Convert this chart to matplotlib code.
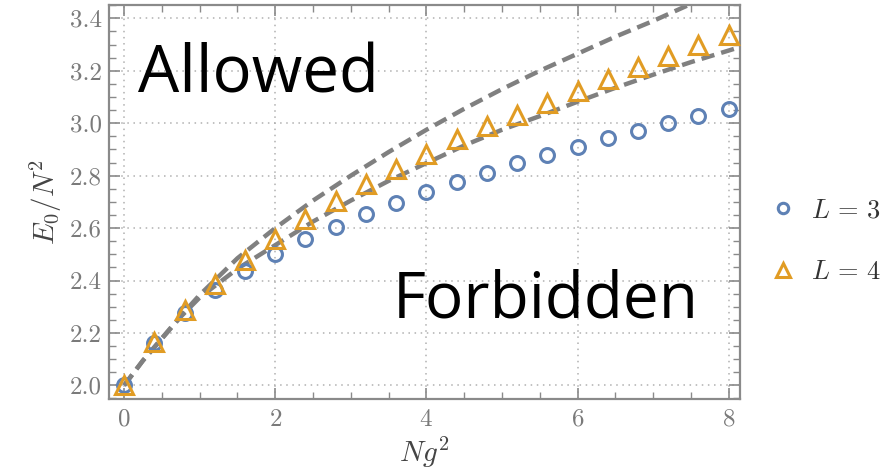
import numpy as np
import matplotlib
matplotlib.use("Agg")
from matplotlib import pyplot as plt
from matplotlib.ticker import MultipleLocator, FormatStrFormatter

plt.rcParams['mathtext.fontset'] = 'cm'
plt.rcParams['axes.formatter.use_mathtext'] = True

# ground-state energy per N^2 against the coupling N g^2
ng2 = [0.0, 0.4, 0.8, 1.2, 1.6, 2.0, 2.4, 2.8, 3.2, 3.6, 4.0,
       4.4, 4.8, 5.2, 5.6, 6.0, 6.4, 6.8, 7.2, 7.6, 8.0]
e_L3 = [2.000, 2.161, 2.276, 2.363, 2.437, 2.500, 2.557, 2.606, 2.652, 2.696, 2.738,
        2.776, 2.812, 2.847, 2.880, 2.910, 2.942, 2.970, 2.999, 3.029, 3.055]
e_L4 = [2.000, 2.167, 2.288, 2.388, 2.477, 2.557, 2.633, 2.703, 2.769, 2.827, 2.884,
        2.940, 2.988, 3.031, 3.078, 3.124, 3.167, 3.215, 3.257, 3.297, 3.338]

# bounding curves
bound_x = [0.0, 0.25, 0.5, 0.75, 1.0, 1.5, 2.0, 2.5, 3.0, 3.5, 4.0, 4.5,
           5.0, 5.5, 6.0, 6.5, 7.0, 7.5, 8.2]
upper_y = [2.000, 2.095, 2.180, 2.265, 2.345, 2.485, 2.600, 2.705, 2.800, 2.890, 2.975,
           3.055, 3.130, 3.200, 3.265, 3.330, 3.390, 3.455, 3.540]
lower_y = [2.000, 2.095, 2.178, 2.262, 2.335, 2.445, 2.535, 2.625, 2.705, 2.780, 2.848,
           2.915, 2.975, 3.027, 3.082, 3.135, 3.185, 3.233, 3.295]

blue = '#5E81B5'
orange = '#E19C24'
frame = '#8a8a8a'

fig = plt.figure(figsize=(8.91, 4.72), dpi=100)
ax = fig.add_axes([109 / 891, 1 - 399 / 472, 631 / 891, 394 / 472])

ax.plot(bound_x, upper_y, ls=(0, (3.0, 1.6)), color='#808080', lw=3.2, zorder=2)
ax.plot(bound_x, lower_y, ls=(0, (3.0, 1.6)), color='#808080', lw=3.2, zorder=2)
ax.plot(ng2, e_L3, 'o', ms=10, mfc='none', mec=blue, mew=2.2, label=r'$L\,=\,3$', zorder=3)
ax.plot(ng2, e_L4, '^', ms=12.5, mfc='none', mec=orange, mew=2.2, label=r'$L\,=\,4$', zorder=3)

ax.set_xlim(-0.2, 8.15)
ax.set_ylim(1.948, 3.451)

ax.xaxis.set_major_locator(MultipleLocator(2))
ax.xaxis.set_minor_locator(MultipleLocator(0.5))
ax.yaxis.set_major_locator(MultipleLocator(0.2))
ax.yaxis.set_minor_locator(MultipleLocator(0.05))
ax.yaxis.set_major_formatter(FormatStrFormatter('%.1f'))

ax.grid(True, which='major', ls=(0, (1, 3)), color='#b0b0b0', lw=1.1)
ax.tick_params(which='both', direction='in', top=True, right=True, color=frame,
               labelcolor='#7a7a7a', labelsize=18)
ax.tick_params(which='major', length=8, width=1.2)
ax.tick_params(which='minor', length=5, width=1.0)
ax.tick_params(axis='x', pad=7)
ax.tick_params(axis='y', pad=5)
for lab in ax.get_xticklabels() + ax.get_yticklabels():
    lab.set_family('cmr10')
for sp in ax.spines.values():
    sp.set_color(frame)
    sp.set_linewidth(1.6)

ax.set_xlabel('$Ng^2$', fontsize=21, color='#444444', labelpad=3)
ax.set_ylabel('$E_0/N^2$', fontsize=21, color='#444444', labelpad=4)

ax.text(0.18, 3.118, 'Allowed', family='Open Sans', fontsize=47, color='black', va='baseline')
ax.text(3.56, 2.257, 'Forbidden', family='Open Sans', fontsize=46, color='black', va='baseline')

ax.legend(loc='center left', bbox_to_anchor=(1.05, 0.40), frameon=False, fontsize=19,
          handlelength=0.9, handletextpad=0.6, labelspacing=1.35, borderpad=0,
          borderaxespad=0, labelcolor='#333333', markerscale=0.75)

fig.savefig('out.png', dpi=100)
